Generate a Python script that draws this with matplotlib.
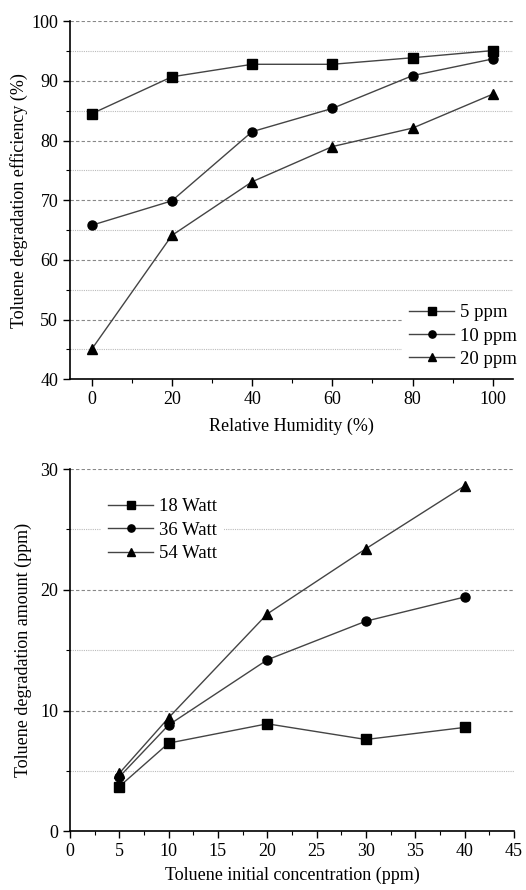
import matplotlib
matplotlib.use('Agg')
import matplotlib.pyplot as plt
from matplotlib.ticker import MultipleLocator

plt.rcParams['font.family'] = ['Liberation Serif', 'DejaVu Serif']

# top panel: efficiency vs relative humidity
humidity = [0, 20, 40, 60, 80, 100]
eff_5ppm = [84.5, 90.7, 92.8, 92.8, 93.9, 95.1]
eff_10ppm = [65.8, 69.9, 81.5, 85.4, 90.9, 93.7]
eff_20ppm = [45.0, 64.1, 73.1, 79.0, 82.1, 87.8]
top_labels = ['5 ppm', '10 ppm', '20 ppm']

# bottom panel: degradation amount vs initial concentration
conc = [5, 10, 20, 30, 40]
amt_18w = [3.7, 7.3, 8.9, 7.6, 8.6]
amt_36w = [4.5, 8.8, 14.2, 17.4, 19.4]
amt_54w = [4.8, 9.4, 18.0, 23.4, 28.6]
bottom_labels = ['18 Watt', '36 Watt', '54 Watt']

markers = ['s', 'o', '^']


def style_axes(ax):
    for side in ('top', 'right'):
        ax.spines[side].set_visible(False)
    ax.spines['left'].set_linewidth(1.2)
    ax.spines['bottom'].set_linewidth(1.2)
    ax.tick_params(which='major', direction='out', length=5, width=1,
                   labelsize=13)
    ax.tick_params(which='minor', direction='out', length=3, width=0.8)
    ax.grid(which='major', axis='y', linestyle=(0, (3, 2)), color='#888888',
            linewidth=0.8)
    ax.grid(which='minor', axis='y', linestyle=(0, (1, 1)), color='#bbbbbb',
            linewidth=0.8)
    ax.set_axisbelow(True)


fig = plt.figure(figsize=(5.26, 8.9), dpi=100)

ax1 = fig.add_axes([0.133, 0.574, 0.842, 0.402])
for ys, m, lab in zip([eff_5ppm, eff_10ppm, eff_20ppm], markers, top_labels):
    ax1.plot(humidity, ys, color='#444444', linewidth=1, marker=m,
             markersize=6.5, markerfacecolor='black', markeredgecolor='black',
             label=lab)
ax1.set_xlim(-5.4, 105)
ax1.set_ylim(40, 100)
ax1.xaxis.set_major_locator(MultipleLocator(20))
ax1.xaxis.set_minor_locator(MultipleLocator(10))
ax1.yaxis.set_major_locator(MultipleLocator(10))
ax1.yaxis.set_minor_locator(MultipleLocator(5))
style_axes(ax1)
ax1.set_xlabel('Relative Humidity (%)', fontsize=13, labelpad=7)
ax1.set_ylabel('Toluene degradation efficiency (%)', fontsize=13, labelpad=2)
ax1.legend(loc='lower right', bbox_to_anchor=(1.03, 0.005), fontsize=13.5,
           handlelength=2.4, markerscale=0.8,
           frameon=True, edgecolor='none', framealpha=1,
           borderaxespad=0.1, labelspacing=0.33, handletextpad=0.3)

ax2 = fig.add_axes([0.133, 0.066, 0.844, 0.407])
for ys, m, lab in zip([amt_18w, amt_36w, amt_54w], markers, bottom_labels):
    ax2.plot(conc, ys, color='#444444', linewidth=1, marker=m,
             markersize=6.5, markerfacecolor='black', markeredgecolor='black',
             label=lab)
ax2.set_xlim(0, 45)
ax2.set_ylim(0, 30)
ax2.xaxis.set_major_locator(MultipleLocator(5))
ax2.xaxis.set_minor_locator(MultipleLocator(2.5))
ax2.yaxis.set_major_locator(MultipleLocator(10))
ax2.yaxis.set_minor_locator(MultipleLocator(5))
style_axes(ax2)
ax2.set_xlabel('Toluene initial concentration (ppm)', fontsize=13, labelpad=5)
ax2.set_ylabel('Toluene degradation amount (ppm)', fontsize=13, labelpad=6)
ax2.legend(loc='upper left', bbox_to_anchor=(0.065, 0.945), fontsize=13.5,
           handlelength=2.4, markerscale=0.8,
           frameon=True, edgecolor='none', framealpha=1,
           borderaxespad=0.1, labelspacing=0.33, handletextpad=0.3)

fig.savefig('out.png', dpi=100)
